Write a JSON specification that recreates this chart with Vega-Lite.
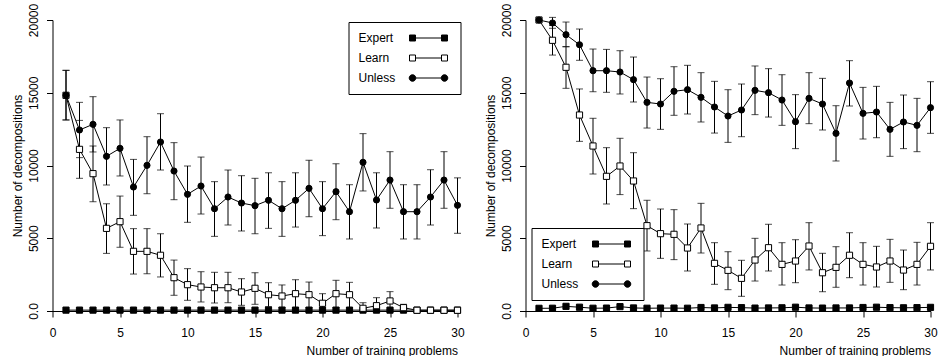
{
"$schema": "https://vega.github.io/schema/vega-lite/v6.json",
"padding": {"left": 10.5, "top": 3, "right": 0, "bottom": 0},
"spacing": 19,
"datasets": {"d": [
{"p":"L","s":"Expert","x":1,"y":60},{"p":"L","s":"Expert","x":2,"y":60},{"p":"L","s":"Expert","x":3,"y":60},{"p":"L","s":"Expert","x":4,"y":60},{"p":"L","s":"Expert","x":5,"y":60},{"p":"L","s":"Expert","x":6,"y":60},{"p":"L","s":"Expert","x":7,"y":60},{"p":"L","s":"Expert","x":8,"y":60},{"p":"L","s":"Expert","x":9,"y":60},{"p":"L","s":"Expert","x":10,"y":60},{"p":"L","s":"Expert","x":11,"y":60},{"p":"L","s":"Expert","x":12,"y":60},{"p":"L","s":"Expert","x":13,"y":60},{"p":"L","s":"Expert","x":14,"y":60},{"p":"L","s":"Expert","x":15,"y":60},{"p":"L","s":"Expert","x":16,"y":60},{"p":"L","s":"Expert","x":17,"y":60},{"p":"L","s":"Expert","x":18,"y":60},{"p":"L","s":"Expert","x":19,"y":60},{"p":"L","s":"Expert","x":20,"y":60},{"p":"L","s":"Expert","x":21,"y":60},{"p":"L","s":"Expert","x":22,"y":60},{"p":"L","s":"Expert","x":23,"y":60},{"p":"L","s":"Expert","x":24,"y":60},{"p":"L","s":"Expert","x":25,"y":60},{"p":"L","s":"Expert","x":26,"y":60},{"p":"L","s":"Expert","x":27,"y":60},{"p":"L","s":"Expert","x":28,"y":60},{"p":"L","s":"Expert","x":29,"y":60},{"p":"L","s":"Expert","x":30,"y":60},
{"p":"L","s":"Learn","x":1,"y":14825,"lo":13130,"hi":16540},{"p":"L","s":"Learn","x":2,"y":11110,"lo":9120,"hi":13100},{"p":"L","s":"Learn","x":3,"y":9440,"lo":7510,"hi":11340},{"p":"L","s":"Learn","x":4,"y":5680,"lo":3960,"hi":7370},{"p":"L","s":"Learn","x":5,"y":6140,"lo":4380,"hi":7900},{"p":"L","s":"Learn","x":6,"y":4100,"lo":2540,"hi":5660},{"p":"L","s":"Learn","x":7,"y":4100,"lo":2560,"hi":5660},{"p":"L","s":"Learn","x":8,"y":3830,"lo":2340,"hi":5310},{"p":"L","s":"Learn","x":9,"y":2290,"lo":1080,"hi":3500},{"p":"L","s":"Learn","x":10,"y":1810,"lo":735,"hi":2910},{"p":"L","s":"Learn","x":11,"y":1650,"lo":620,"hi":2700},{"p":"L","s":"Learn","x":12,"y":1600,"lo":550,"hi":2660},{"p":"L","s":"Learn","x":13,"y":1600,"lo":570,"hi":2660},{"p":"L","s":"Learn","x":14,"y":1305,"lo":390,"hi":2220},{"p":"L","s":"Learn","x":15,"y":1560,"lo":460,"hi":2630},{"p":"L","s":"Learn","x":16,"y":1120,"lo":300,"hi":1945},{"p":"L","s":"Learn","x":17,"y":1030,"lo":250,"hi":1790},{"p":"L","s":"Learn","x":18,"y":1190,"lo":230,"hi":2150},{"p":"L","s":"Learn","x":19,"y":1120,"lo":230,"hi":1990},{"p":"L","s":"Learn","x":20,"y":530,"lo":70,"hi":1190},{"p":"L","s":"Learn","x":21,"y":1190,"lo":230,"hi":2110},{"p":"L","s":"Learn","x":22,"y":1120,"lo":230,"hi":1970},{"p":"L","s":"Learn","x":23,"y":185,"lo":0,"hi":570},{"p":"L","s":"Learn","x":24,"y":365,"lo":0,"hi":915},{"p":"L","s":"Learn","x":25,"y":690,"lo":115,"hi":1330},{"p":"L","s":"Learn","x":26,"y":230,"lo":0,"hi":460},{"p":"L","s":"Learn","x":27,"y":50},{"p":"L","s":"Learn","x":28,"y":50},{"p":"L","s":"Learn","x":29,"y":50},{"p":"L","s":"Learn","x":30,"y":50},
{"p":"L","s":"Unless","x":1,"y":14825,"lo":13130,"hi":16540},{"p":"L","s":"Unless","x":2,"y":12440,"lo":10540,"hi":14340},{"p":"L","s":"Unless","x":3,"y":12830,"lo":10930,"hi":14730},{"p":"L","s":"Unless","x":4,"y":10630,"lo":8660,"hi":12600},{"p":"L","s":"Unless","x":5,"y":11180,"lo":9280,"hi":13130},{"p":"L","s":"Unless","x":6,"y":8520,"lo":6575,"hi":10420},{"p":"L","s":"Unless","x":7,"y":10010,"lo":8060,"hi":11980},{"p":"L","s":"Unless","x":8,"y":11615,"lo":9690,"hi":13560},{"p":"L","s":"Unless","x":9,"y":9620,"lo":7650,"hi":11570},{"p":"L","s":"Unless","x":10,"y":8020,"lo":6095,"hi":9965},{"p":"L","s":"Unless","x":11,"y":8590,"lo":6665,"hi":10580},{"p":"L","s":"Unless","x":12,"y":7030,"lo":5130,"hi":8890},{"p":"L","s":"Unless","x":13,"y":7835,"lo":5910,"hi":9690},{"p":"L","s":"Unless","x":14,"y":7420,"lo":5500,"hi":9300},{"p":"L","s":"Unless","x":15,"y":7240,"lo":5310,"hi":9120},{"p":"L","s":"Unless","x":16,"y":7610,"lo":5680,"hi":9500},{"p":"L","s":"Unless","x":17,"y":7030,"lo":5130,"hi":8890},{"p":"L","s":"Unless","x":18,"y":7610,"lo":5770,"hi":9500},{"p":"L","s":"Unless","x":19,"y":8430,"lo":6480,"hi":10360},{"p":"L","s":"Unless","x":20,"y":7030,"lo":5180,"hi":8890},{"p":"L","s":"Unless","x":21,"y":8200,"lo":6275,"hi":10120},{"p":"L","s":"Unless","x":22,"y":6825,"lo":4950,"hi":8680},{"p":"L","s":"Unless","x":23,"y":10220,"lo":8250,"hi":12190},{"p":"L","s":"Unless","x":24,"y":7630,"lo":5705,"hi":9500},{"p":"L","s":"Unless","x":25,"y":9000,"lo":7060,"hi":10950},{"p":"L","s":"Unless","x":26,"y":6825,"lo":4950,"hi":8680},{"p":"L","s":"Unless","x":27,"y":6825,"lo":4950,"hi":8680},{"p":"L","s":"Unless","x":28,"y":7835,"lo":5910,"hi":9710},{"p":"L","s":"Unless","x":29,"y":9000,"lo":7060,"hi":10950},{"p":"L","s":"Unless","x":30,"y":7265,"lo":5340,"hi":9150},
{"p":"R","s":"Expert","x":1,"y":185},{"p":"R","s":"Expert","x":2,"y":190},{"p":"R","s":"Expert","x":3,"y":320},{"p":"R","s":"Expert","x":4,"y":260},{"p":"R","s":"Expert","x":5,"y":190},{"p":"R","s":"Expert","x":6,"y":200},{"p":"R","s":"Expert","x":7,"y":300},{"p":"R","s":"Expert","x":8,"y":210},{"p":"R","s":"Expert","x":9,"y":190},{"p":"R","s":"Expert","x":10,"y":200},{"p":"R","s":"Expert","x":11,"y":200},{"p":"R","s":"Expert","x":12,"y":190},{"p":"R","s":"Expert","x":13,"y":240},{"p":"R","s":"Expert","x":14,"y":210},{"p":"R","s":"Expert","x":15,"y":250},{"p":"R","s":"Expert","x":16,"y":230},{"p":"R","s":"Expert","x":17,"y":200},{"p":"R","s":"Expert","x":18,"y":210},{"p":"R","s":"Expert","x":19,"y":220},{"p":"R","s":"Expert","x":20,"y":260},{"p":"R","s":"Expert","x":21,"y":210},{"p":"R","s":"Expert","x":22,"y":200},{"p":"R","s":"Expert","x":23,"y":210},{"p":"R","s":"Expert","x":24,"y":210},{"p":"R","s":"Expert","x":25,"y":240},{"p":"R","s":"Expert","x":26,"y":260},{"p":"R","s":"Expert","x":27,"y":230},{"p":"R","s":"Expert","x":28,"y":220},{"p":"R","s":"Expert","x":29,"y":230},{"p":"R","s":"Expert","x":30,"y":250},
{"p":"R","s":"Learn","x":1,"y":20000},{"p":"R","s":"Learn","x":2,"y":18605,"lo":17590,"hi":19620},{"p":"R","s":"Learn","x":3,"y":16750,"lo":15305,"hi":18165},{"p":"R","s":"Learn","x":4,"y":13470,"lo":11660,"hi":15260},{"p":"R","s":"Learn","x":5,"y":11340,"lo":9415,"hi":13245},{"p":"R","s":"Learn","x":6,"y":9255,"lo":7355,"hi":11225},{"p":"R","s":"Learn","x":7,"y":9965,"lo":8000,"hi":11870},{"p":"R","s":"Learn","x":8,"y":8935,"lo":7035,"hi":10880},{"p":"R","s":"Learn","x":9,"y":5865,"lo":4125,"hi":7610},{"p":"R","s":"Learn","x":10,"y":5315,"lo":3620,"hi":7010},{"p":"R","s":"Learn","x":11,"y":5270,"lo":3530,"hi":6965},{"p":"R","s":"Learn","x":12,"y":4330,"lo":2750,"hi":5980},{"p":"R","s":"Learn","x":13,"y":5705,"lo":3985,"hi":7400},{"p":"R","s":"Learn","x":14,"y":3275,"lo":1835,"hi":4695},{"p":"R","s":"Learn","x":15,"y":2795,"lo":1465,"hi":4075},{"p":"R","s":"Learn","x":16,"y":2245,"lo":1010,"hi":3485},{"p":"R","s":"Learn","x":17,"y":3505,"lo":2060,"hi":4995},{"p":"R","s":"Learn","x":18,"y":4350,"lo":2750,"hi":5960},{"p":"R","s":"Learn","x":19,"y":3205,"lo":1785,"hi":4695},{"p":"R","s":"Learn","x":20,"y":3435,"lo":1945,"hi":4900},{"p":"R","s":"Learn","x":21,"y":4465,"lo":2820,"hi":6070},{"p":"R","s":"Learn","x":22,"y":2630,"lo":1325,"hi":3965},{"p":"R","s":"Learn","x":23,"y":3000,"lo":1630,"hi":4420},{"p":"R","s":"Learn","x":24,"y":3830,"lo":2290,"hi":5380},{"p":"R","s":"Learn","x":25,"y":3205,"lo":1785,"hi":4695},{"p":"R","s":"Learn","x":26,"y":3025,"lo":1650,"hi":4445},{"p":"R","s":"Learn","x":27,"y":3435,"lo":1970,"hi":4925},{"p":"R","s":"Learn","x":28,"y":2815,"lo":1465,"hi":4190},{"p":"R","s":"Learn","x":29,"y":3205,"lo":1785,"hi":4720},{"p":"R","s":"Learn","x":30,"y":4445,"lo":2820,"hi":6070},
{"p":"R","s":"Unless","x":1,"y":20000},{"p":"R","s":"Unless","x":2,"y":19795,"lo":19430,"hi":20180},{"p":"R","s":"Unless","x":3,"y":18990,"lo":18165,"hi":19860},{"p":"R","s":"Unless","x":4,"y":18300,"lo":17230,"hi":19380},{"p":"R","s":"Unless","x":5,"y":16515,"lo":15070,"hi":18005},{"p":"R","s":"Unless","x":6,"y":16515,"lo":15030,"hi":17980},{"p":"R","s":"Unless","x":7,"y":16425,"lo":14915,"hi":17890},{"p":"R","s":"Unless","x":8,"y":15900,"lo":14365,"hi":17455},{"p":"R","s":"Unless","x":9,"y":14340,"lo":12575,"hi":16080},{"p":"R","s":"Unless","x":10,"y":14225,"lo":12485,"hi":15965},{"p":"R","s":"Unless","x":11,"y":15100,"lo":13450,"hi":16790},{"p":"R","s":"Unless","x":12,"y":15210,"lo":13540,"hi":16885},{"p":"R","s":"Unless","x":13,"y":14685,"lo":12990,"hi":16380},{"p":"R","s":"Unless","x":14,"y":14020,"lo":12230,"hi":15785},{"p":"R","s":"Unless","x":15,"y":13400,"lo":11590,"hi":15210},{"p":"R","s":"Unless","x":16,"y":13815,"lo":11980,"hi":15600},{"p":"R","s":"Unless","x":17,"y":15165,"lo":13495,"hi":16840},{"p":"R","s":"Unless","x":18,"y":15005,"lo":13330,"hi":16655},{"p":"R","s":"Unless","x":19,"y":14500,"lo":12760,"hi":16240},{"p":"R","s":"Unless","x":20,"y":13010,"lo":11160,"hi":14870},{"p":"R","s":"Unless","x":21,"y":14615,"lo":12875,"hi":16380},{"p":"R","s":"Unless","x":22,"y":14225,"lo":12440,"hi":15990},{"p":"R","s":"Unless","x":23,"y":12210,"lo":10310,"hi":14110},{"p":"R","s":"Unless","x":24,"y":15670,"lo":14090,"hi":17205},{"p":"R","s":"Unless","x":25,"y":13585,"lo":11820,"hi":15370},{"p":"R","s":"Unless","x":26,"y":13675,"lo":11910,"hi":15440},{"p":"R","s":"Unless","x":27,"y":12485,"lo":10630,"hi":14340},{"p":"R","s":"Unless","x":28,"y":12990,"lo":11160,"hi":14845},{"p":"R","s":"Unless","x":29,"y":12760,"lo":10950,"hi":14615},{"p":"R","s":"Unless","x":30,"y":13975,"lo":12210,"hi":15760}
]},
"data": {"name": "d"},
"config": {
  "font": "Liberation Sans",
  "view": {"stroke": null},
  "axis": {"grid": false, "domainColor": "black", "tickColor": "black", "labelColor": "black", "titleColor": "black", "labelFontSize": 12, "titleFontSize": 12, "titleFontWeight": "normal", "tickSize": 6, "domainWidth": 1, "tickWidth": 1, "labelFont": "Liberation Sans", "titleFont": "Liberation Sans", "labelFlush": false},
  "axisX": {"labelPadding": 10, "titleAnchor": "end", "titlePadding": 7, "labelAngle": 0},
  "axisY": {"labelAngle": -90, "labelAlign": "center", "labelBaseline": "bottom", "labelPadding": 6.5, "titlePadding": 3},
  "legend": {"title": null, "symbolSize": 4, "labelOffset": -12, "padding": 10, "rowPadding": 8, "strokeColor": "black", "fillColor": "white", "cornerRadius": 0, "labelFontSize": 12, "labelFont": "Liberation Sans", "labelColor": "black", "symbolStrokeColor": "black", "symbolStrokeWidth": 1}
},
"hconcat": [
{
  "width": 405, "height": 291,
  "transform": [{"filter": "datum.p == 'L'"}],
  "encoding": {"x": {"field": "x", "type": "quantitative", "scale": {"domain": [0, 30], "nice": false}, "axis": {"title": "Number of training problems", "values": [0, 5, 10, 15, 20, 25, 30]}}},
  "layer": [
    {"transform": [{"filter": "isValid(datum.lo)"}], "mark": {"type": "rule", "color": "black", "strokeWidth": 1},
     "encoding": {"y": {"field": "lo", "type": "quantitative", "scale": {"domain": [0, 20000], "nice": false}, "axis": {"title": "Number of decompositions", "format": "d", "values": [0, 5000, 10000, 15000, 20000], "labelExpr": "datum.value == 0 ? '0.0' : datum.label"}}, "y2": {"field": "hi"}}},
    {"transform": [{"filter": "isValid(datum.lo)"}], "mark": {"type": "tick", "orient": "horizontal", "color": "black", "size": 7, "thickness": 1},
     "encoding": {"y": {"field": "lo", "type": "quantitative", "scale": {"domain": [0, 20000], "nice": false}, "axis": {"title": "Number of decompositions"}}}},
    {"transform": [{"filter": "isValid(datum.lo)"}], "mark": {"type": "tick", "orient": "horizontal", "color": "black", "size": 7, "thickness": 1},
     "encoding": {"y": {"field": "hi", "type": "quantitative", "scale": {"domain": [0, 20000], "nice": false}, "axis": {"title": "Number of decompositions"}}}},
    {"mark": {"type": "line", "color": "black", "strokeWidth": 1},
     "encoding": {"y": {"field": "y", "type": "quantitative", "scale": {"domain": [0, 20000], "nice": false}, "axis": {"title": "Number of decompositions"}}, "detail": {"field": "s"}}},
    {"mark": {"type": "point", "filled": true, "stroke": "black", "strokeWidth": 1, "opacity": 1, "size": 38},
     "encoding": {"y": {"field": "y", "type": "quantitative", "scale": {"domain": [0, 20000], "nice": false}, "axis": {"title": "Number of decompositions"}},
       "shape": {"field": "s", "type": "nominal", "scale": {"domain": ["Expert", "Learn", "Unless"], "range": ["square", "square", "circle"]}, "legend": null},
       "fill": {"field": "s", "type": "nominal", "scale": {"domain": ["Expert", "Learn", "Unless"], "range": ["black", "white", "black"]}, "legend": null}}},
    {"transform": [{"filter": "false"}], "mark": {"type": "point", "filled": false, "stroke": "black", "strokeWidth": 1, "opacity": 1},
     "encoding": {
       "shape": {"field": "s", "type": "nominal", "scale": {"domain": ["Expert", "Learn", "Unless"], "range": ["M45,-3h6v6h-6zM77,-3h6v6h-6zM51,0H77", "M45,-3h6v6h-6zM77,-3h6v6h-6zM51,0H77", "M44.7,0a3.3,3.3 0 1,0 6.6,0a3.3,3.3 0 1,0 -6.6,0zM76.7,0a3.3,3.3 0 1,0 6.6,0a3.3,3.3 0 1,0 -6.6,0zM51.3,0H76.7"]}, "legend": {"orient": "none", "legendX": 296, "legendY": 2, "encoding": {"symbols": {"stroke": {"value": "black"}, "strokeWidth": {"value": 1}, "opacity": {"value": 1}}}}},
       "fill": {"field": "s", "type": "nominal", "scale": {"domain": ["Expert", "Learn", "Unless"], "range": ["black", "white", "black"]}, "legend": {"orient": "none", "legendX": 296, "legendY": 2, "encoding": {"symbols": {"stroke": {"value": "black"}, "strokeWidth": {"value": 1}, "opacity": {"value": 1}}}}}}}
  ],
  "resolve": {"scale": {"shape": "independent", "fill": "independent"}}
},
{
  "width": 405, "height": 291,
  "transform": [{"filter": "datum.p == 'R'"}],
  "encoding": {"x": {"field": "x", "type": "quantitative", "scale": {"domain": [0, 30], "nice": false}, "axis": {"title": "Number of training problems", "values": [0, 5, 10, 15, 20, 25, 30]}}},
  "layer": [
    {"transform": [{"filter": "isValid(datum.lo)"}], "mark": {"type": "rule", "color": "black", "strokeWidth": 1},
     "encoding": {"y": {"field": "lo", "type": "quantitative", "scale": {"domain": [0, 20000], "nice": false}, "axis": {"title": "Number of decompositions", "format": "d", "values": [0, 5000, 10000, 15000, 20000], "labelExpr": "datum.value == 0 ? '0.0' : datum.label"}}, "y2": {"field": "hi"}}},
    {"transform": [{"filter": "isValid(datum.lo)"}], "mark": {"type": "tick", "orient": "horizontal", "color": "black", "size": 7, "thickness": 1},
     "encoding": {"y": {"field": "lo", "type": "quantitative", "scale": {"domain": [0, 20000], "nice": false}, "axis": {"title": "Number of decompositions"}}}},
    {"transform": [{"filter": "isValid(datum.lo)"}], "mark": {"type": "tick", "orient": "horizontal", "color": "black", "size": 7, "thickness": 1},
     "encoding": {"y": {"field": "hi", "type": "quantitative", "scale": {"domain": [0, 20000], "nice": false}, "axis": {"title": "Number of decompositions"}}}},
    {"mark": {"type": "line", "color": "black", "strokeWidth": 1},
     "encoding": {"y": {"field": "y", "type": "quantitative", "scale": {"domain": [0, 20000], "nice": false}, "axis": {"title": "Number of decompositions"}}, "detail": {"field": "s"}}},
    {"mark": {"type": "point", "filled": true, "stroke": "black", "strokeWidth": 1, "opacity": 1, "size": 38},
     "encoding": {"y": {"field": "y", "type": "quantitative", "scale": {"domain": [0, 20000], "nice": false}, "axis": {"title": "Number of decompositions"}},
       "shape": {"field": "s", "type": "nominal", "scale": {"domain": ["Expert", "Learn", "Unless"], "range": ["square", "square", "circle"]}, "legend": null},
       "fill": {"field": "s", "type": "nominal", "scale": {"domain": ["Expert", "Learn", "Unless"], "range": ["black", "white", "black"]}, "legend": null}}},
    {"transform": [{"filter": "false"}], "mark": {"type": "point", "filled": false, "stroke": "black", "strokeWidth": 1, "opacity": 1},
     "encoding": {
       "shape": {"field": "s", "type": "nominal", "scale": {"domain": ["Expert", "Learn", "Unless"], "range": ["M45,-3h6v6h-6zM77,-3h6v6h-6zM51,0H77", "M45,-3h6v6h-6zM77,-3h6v6h-6zM51,0H77", "M44.7,0a3.3,3.3 0 1,0 6.6,0a3.3,3.3 0 1,0 -6.6,0zM76.7,0a3.3,3.3 0 1,0 6.6,0a3.3,3.3 0 1,0 -6.6,0zM51.3,0H76.7"]}, "legend": {"orient": "none", "legendX": 6, "legendY": 208, "encoding": {"symbols": {"stroke": {"value": "black"}, "strokeWidth": {"value": 1}, "opacity": {"value": 1}}}}},
       "fill": {"field": "s", "type": "nominal", "scale": {"domain": ["Expert", "Learn", "Unless"], "range": ["black", "white", "black"]}, "legend": {"orient": "none", "legendX": 6, "legendY": 208, "encoding": {"symbols": {"stroke": {"value": "black"}, "strokeWidth": {"value": 1}, "opacity": {"value": 1}}}}}}}
  ],
  "resolve": {"scale": {"shape": "independent", "fill": "independent"}}
}
]
}
